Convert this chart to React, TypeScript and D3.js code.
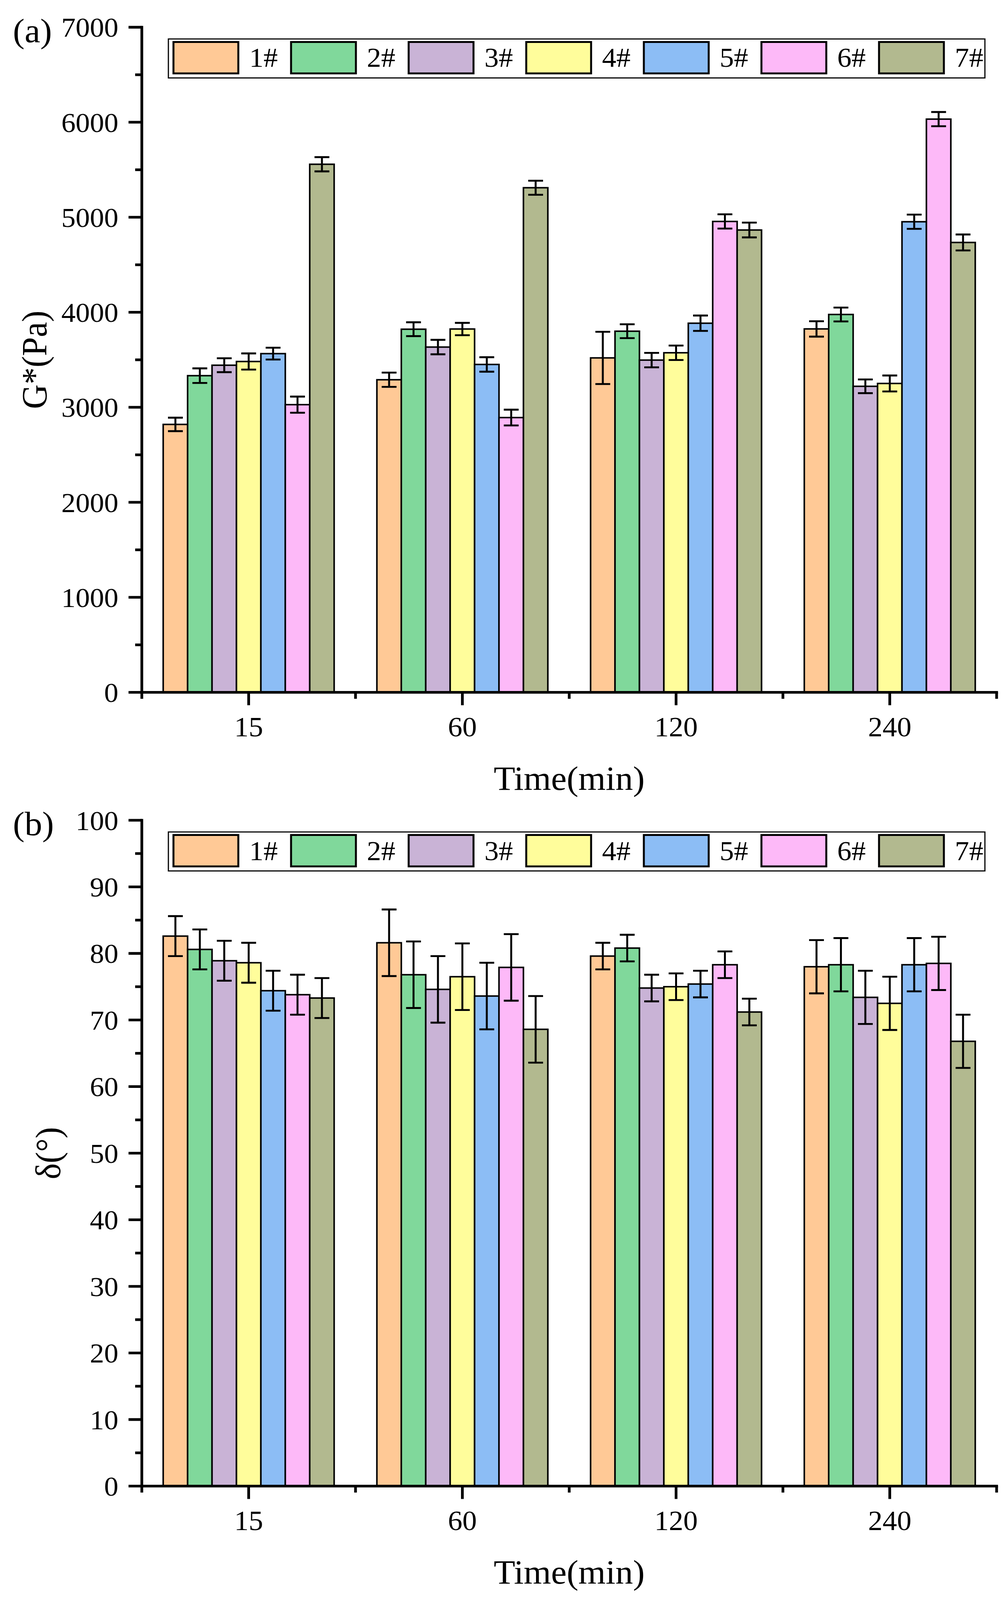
import { useEffect, useState } from "react";
import * as d3 from "d3";

const W = 2575;
const H = 4229;
const FONT = "'Liberation Serif', 'Times New Roman', Times, serif";

const categories = ["15", "60", "120", "240"];
const series = ["1#", "2#", "3#", "4#", "5#", "6#", "7#"];
const COLORS = [
  "#ffc996",
  "#80d89b",
  "#c9b3d6",
  "#fffd9b",
  "#8cbdf5",
  "#fdb9f8",
  "#b2b98f",
];

// G* (Pa), one row per sample, columns = time
const gMean = [
  [2820, 3290, 3520, 3825],
  [3333, 3822, 3801, 3977],
  [3443, 3634, 3497, 3221],
  [3482, 3824, 3574, 3251],
  [3565, 3451, 3885, 4953],
  [3028, 2892, 4956, 6033],
  [5558, 5311, 4866, 4735],
];
const gErr = [
  [71, 75, 275, 81],
  [77, 73, 73, 73],
  [73, 76, 76, 72],
  [85, 65, 76, 84],
  [62, 76, 81, 75],
  [85, 83, 75, 75],
  [75, 74, 78, 84],
];

// phase angle (°)
const dMean = [
  [82.6, 81.6, 79.6, 78.0],
  [80.6, 76.8, 80.8, 78.3],
  [78.9, 74.6, 74.8, 73.4],
  [78.6, 76.5, 75.0, 72.5],
  [74.4, 73.6, 75.4, 78.3],
  [73.8, 77.9, 78.3, 78.5],
  [73.3, 68.6, 71.2, 66.8],
];
const dErr = [
  [3.0, 5.0, 2.0, 4.0],
  [3.0, 5.0, 2.0, 4.0],
  [3.0, 5.0, 2.0, 4.0],
  [3.0, 5.0, 2.0, 4.0],
  [3.0, 5.0, 2.0, 4.0],
  [3.0, 5.0, 2.0, 4.0],
  [3.0, 5.0, 2.0, 4.0],
];

const X0 = 363;
const X1 = 2551;

interface PanelProps {
  top: number;
  bottom: number;
  tag: string;
  yMax: number;
  yStep: number;
  yLabel: string;
  labelX: number;
  means: number[][];
  errs: number[][];
}

function Panel({ top, bottom, tag, yMax, yStep, yLabel, labelX, means, errs }: PanelProps) {
  const x = d3.scaleBand<string>().domain(categories).range([X0, X1]).padding(0);
  const bw = x.bandwidth();
  const inner = d3
    .scaleBand<string>()
    .domain(series)
    .range([-0.4 * bw, 0.4 * bw])
    .padding(0);
  const y = d3.scaleLinear().domain([0, yMax]).range([bottom, top]);

  const major = d3.range(0, yMax + yStep / 2, yStep);
  const minor = d3.range(yStep / 2, yMax, yStep);
  const capHalf = 19;

  return (
    <g>
      {/* bars */}
      {series.map((s, si) =>
        categories.map((c, ci) => {
          const v = means[si][ci];
          const bx = x(c)! + bw / 2 + inner(s)!;
          return (
            <rect
              key={`b-${s}-${c}`}
              x={bx}
              y={y(v)}
              width={inner.bandwidth()}
              height={y(0) - y(v)}
              fill={COLORS[si]}
              stroke="#000"
              strokeWidth={4}
            />
          );
        }),
      )}

      {/* error bars */}
      {series.map((s, si) =>
        categories.map((c, ci) => {
          const v = means[si][ci];
          const e = errs[si][ci];
          const cx = x(c)! + bw / 2 + inner(s)! + inner.bandwidth() / 2;
          return (
            <g key={`e-${s}-${c}`} stroke="#000" strokeWidth={5}>
              <line x1={cx} x2={cx} y1={y(v + e)} y2={y(v - e)} />
              <line x1={cx - capHalf} x2={cx + capHalf} y1={y(v + e)} y2={y(v + e)} />
              <line x1={cx - capHalf} x2={cx + capHalf} y1={y(v - e)} y2={y(v - e)} />
            </g>
          );
        }),
      )}

      {/* y axis */}
      <g stroke="#000" strokeWidth={7}>
        <line x1={X0} x2={X0} y1={top - 3.5} y2={bottom} />
        {major.map((t) => (
          <line key={`ym-${t}`} x1={X0 - 34} x2={X0} y1={y(t)} y2={y(t)} />
        ))}
        {minor.map((t) => (
          <line key={`yn-${t}`} x1={X0 - 17} x2={X0} y1={y(t)} y2={y(t)} />
        ))}
      </g>
      {major.map((t) => (
        <text
          key={`yl-${t}`}
          x={303}
          y={y(t)}
          dy="0.35em"
          textAnchor="end"
          fontFamily={FONT}
          fontSize={73}
        >
          {t}
        </text>
      ))}

      {/* x axis */}
      <g stroke="#000" strokeWidth={7}>
        <line x1={X0 - 3.5} x2={X1 + 3.5} y1={bottom} y2={bottom} />
        {categories.map((c) => (
          <line
            key={`xm-${c}`}
            x1={x(c)! + bw / 2}
            x2={x(c)! + bw / 2}
            y1={bottom}
            y2={bottom + 34}
          />
        ))}
        {d3.range(0, categories.length + 1).map((i) => (
          <line key={`xn-${i}`} x1={X0 + i * bw} x2={X0 + i * bw} y1={bottom} y2={bottom + 17} />
        ))}
      </g>
      {categories.map((c) => (
        <text
          key={`xl-${c}`}
          x={x(c)! + bw / 2}
          y={bottom + 116}
          textAnchor="middle"
          fontFamily={FONT}
          fontSize={74}
        >
          {c}
        </text>
      ))}
      <text
        x={(X0 + X1) / 2}
        y={bottom + 258}
        textAnchor="middle"
        fontFamily={FONT}
        fontSize={90}
      >
        Time(min)
      </text>
      <text
        transform={`translate(${labelX},${(top + bottom) / 2}) rotate(-90)`}
        textAnchor="middle"
        fontFamily={FONT}
        fontSize={90}
      >
        {yLabel}
      </text>
      <text x={33} y={top + 39} fontFamily={FONT} fontSize={90}>
        {tag}
      </text>

      {/* legend */}
      <rect
        x={431}
        y={top + 31}
        width={2090}
        height={103}
        fill="#fff"
        stroke="#000"
        strokeWidth={3}
      />
      {series.map((s, si) => (
        <g key={`lg-${s}`}>
          <rect
            x={444 + si * 301}
            y={top + 39}
            width={166}
            height={83}
            fill={COLORS[si]}
            stroke="#000"
            strokeWidth={5}
          />
          <text x={638 + si * 301} y={top + 105} fontFamily={FONT} fontSize={73}>
            {s}
          </text>
        </g>
      ))}
    </g>
  );
}

export default function App() {
  // the page may be shorter than the figure: squeeze it vertically to fit
  const [viewH, setViewH] = useState(H);
  useEffect(() => {
    document.body.style.margin = "0";
    setViewH(Math.min(H, window.innerHeight || H));
  }, []);

  return (
    <svg
      width={W}
      height={viewH}
      viewBox={`0 0 ${W} ${H}`}
      preserveAspectRatio="none"
      style={{ display: "block", position: "absolute", left: 0, top: 0, background: "#fff" }}
    >
      <rect width={W} height={H} fill="#fff" />
      <Panel
        top={72}
        bottom={1830}
        tag="(a)"
        yMax={7000}
        yStep={1000}
        yLabel="G*(Pa)"
        labelX={119}
        means={gMean}
        errs={gErr}
      />
      <Panel
        top={2168}
        bottom={3928}
        tag="(b)"
        yMax={100}
        yStep={10}
        yLabel="δ(°)"
        labelX={154}
        means={dMean}
        errs={dErr}
      />
    </svg>
  );
}
